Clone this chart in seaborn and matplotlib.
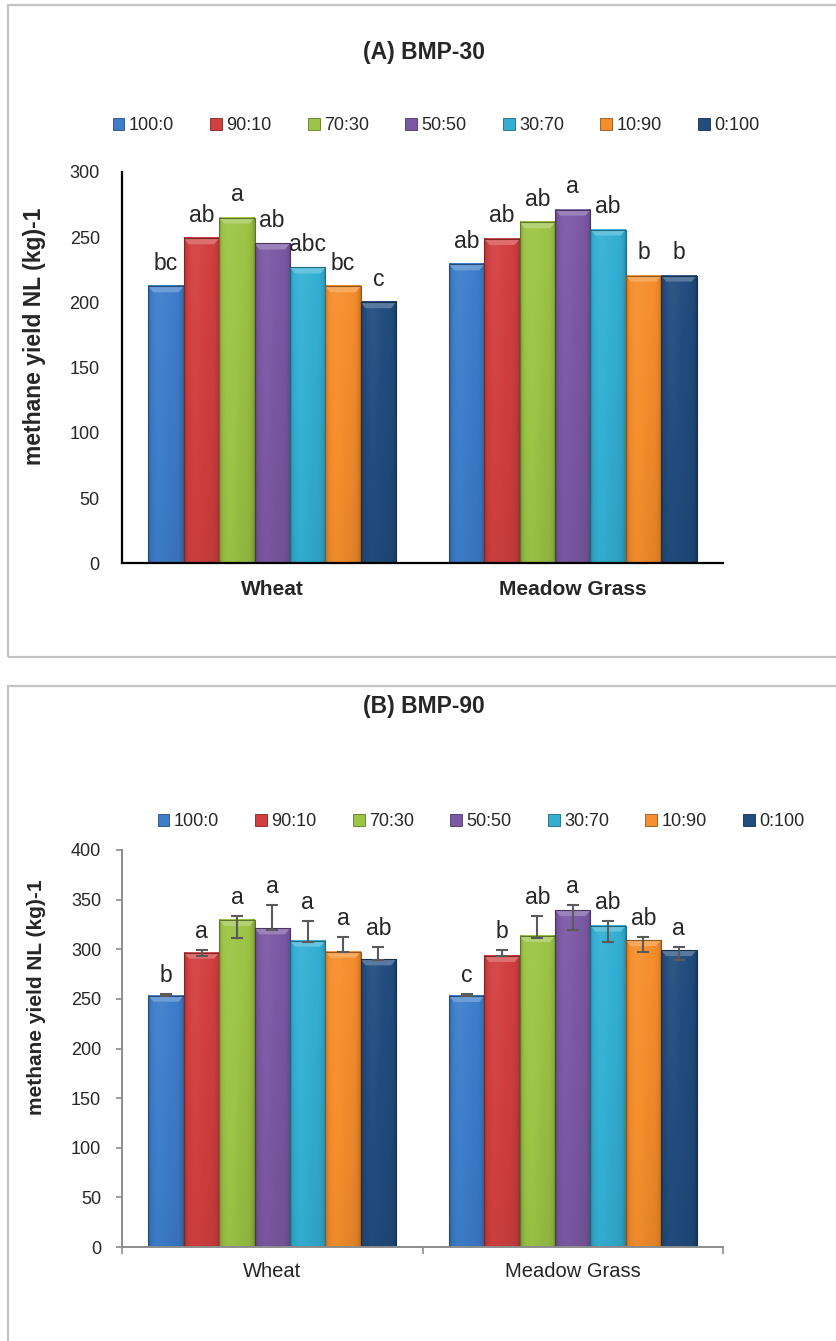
import numpy as np
import pandas as pd
import matplotlib
matplotlib.use("Agg")
import matplotlib.pyplot as plt
import matplotlib.colors as mcolors
from matplotlib.patches import Rectangle, Polygon, Patch
import seaborn as sns

# ---- data -------------------------------------------------------------
crops = ["Wheat", "Meadow Grass"]
ratios = ["100:0", "90:10", "70:30", "50:50", "30:70", "10:90", "0:100"]
bar_colors = ["#3D7DCA", "#D13F3F", "#9CC445", "#7B58A4", "#33AFD3", "#F58E2C", "#214C7E"]

# (A) BMP-30, methane yield NL (kg)-1
bmp30_wheat = [212.4, 249.2, 265.1, 245.2, 226.8, 212.4, 200.2]
bmp30_meadow = [229.3, 248.7, 261.5, 271.2, 255.9, 220.6, 220.6]
bmp30_wheat_letters = ["bc", "ab", "a", "ab", "abc", "bc", "c"]
bmp30_meadow_letters = ["ab", "ab", "ab", "a", "ab", "b", "b"]

# (B) BMP-90, methane yield NL (kg)-1
bmp90_wheat = [253.2, 296.6, 329.5, 321.1, 308.6, 297.6, 289.8]
bmp90_meadow = [252.9, 293.2, 313.4, 339.5, 323.8, 309.3, 299.2]
bmp90_wheat_letters = ["b", "a", "a", "a", "a", "a", "ab"]
bmp90_meadow_letters = ["c", "b", "ab", "a", "ab", "ab", "a"]
# error bar range for each mixing ratio (shared by both crops)
bmp90_err_low = [252.6, 293.5, 311.0, 319.4, 307.0, 296.9, 289.2]
bmp90_err_high = [254.9, 299.2, 333.8, 344.6, 328.8, 312.7, 302.6]

y_label = "methane yield NL (kg)-1"

# ---- style ------------------------------------------------------------
sns.set_style("white")
plt.rcParams["font.family"] = ["Liberation Sans", "DejaVu Sans"]

W, H = 836, 1341
DPI = 100
fig = plt.figure(figsize=(W / DPI, H / DPI), dpi=DPI)


def fx(px):
    return px / W


def fy(py):
    return 1 - py / H


def shade(color, f):
    rgb = np.array(mcolors.to_rgb(color))
    if f >= 1:
        return rgb + (1 - rgb) * (f - 1)
    return rgb * f


def make_frame(frame):
    return pd.DataFrame(
        [(c, r, v) for c, vals in frame for r, v in zip(ratios, vals)],
        columns=["crop", "ratio", "yield"],
    )


def beveled_bars(ax, units_per_px):
    """Give every bar a soft horizontal shading, a light top bevel and a dark rim."""
    nx, ny = 40, 60
    t = np.linspace(0, 1, nx)
    sx = 1.0 - 0.20 * (np.exp(-t / 0.06) + np.exp(-(1 - t) / 0.08)) + 0.05 * np.exp(-((t - 0.3) / 0.25) ** 2)
    s = np.linspace(0, 1, ny)[:, None]
    sy = 0.93 + 0.08 * s
    fac = sx[None, :] * sy
    for cont, col in zip(ax.containers, bar_colors):
        base = np.array(mcolors.to_rgb(col))
        for rect in cont:
            x0, w, h = rect.get_x(), rect.get_width(), rect.get_height()
            img = np.empty((ny, nx, 3))
            for k in range(3):
                hi = base[k] + (1 - base[k]) * np.clip(fac - 1, 0, None)
                lo = base[k] * np.clip(fac, None, 1)
                img[:, :, k] = np.where(fac >= 1, hi, lo)
            ax.imshow(img, extent=[x0, x0 + w, 0, h], origin="lower", aspect="auto",
                      interpolation="bilinear", zorder=2.1)
            d = 6 * units_per_px
            inset = w * 0.14
            ax.add_patch(Polygon([(x0, h), (x0 + w, h), (x0 + w - inset, h - d), (x0 + inset, h - d)],
                                 closed=True, facecolor=shade(col, 1.25), edgecolor="none", zorder=2.2))
            ax.add_patch(Rectangle((x0, 0), w, h, fill=False, edgecolor=shade(col, 0.6),
                                   linewidth=0.8, zorder=2.3))
            rect.set_visible(False)


def draw_panel(ax, frame, ymax, units_per_px, label_size):
    df = make_frame(frame)
    sns.barplot(data=df, x="crop", y="yield", hue="ratio", order=crops, hue_order=ratios,
                palette=bar_colors, saturation=1, width=0.824, errorbar=None,
                legend=False, ax=ax)
    beveled_bars(ax, units_per_px)
    ax.set_xlim(-0.5, 1.5)
    ax.set_ylim(0, ymax)
    ax.set_xlabel("")
    ax.set_ylabel(y_label, fontsize=label_size, fontweight="bold")
    for sp in ["top", "right"]:
        ax.spines[sp].set_visible(False)


# ---- panel frames ------------------------------------------------------
fig.patches.append(Rectangle((fx(8), fy(657)), 1.0, fy(5) - fy(657), transform=fig.transFigure,
                             fill=False, edgecolor="#C3C3C3", linewidth=1.6))
fig.patches.append(Rectangle((fx(8), fy(1350)), 1.0, fy(686) - fy(1350), transform=fig.transFigure,
                             fill=False, edgecolor="#C3C3C3", linewidth=1.6))

legend_handles = [Patch(facecolor=c, edgecolor=shade(c, 0.6), linewidth=0.6) for c in bar_colors]
legend_kw = dict(ncol=7, frameon=False, fontsize=13, handlelength=0.65, handleheight=0.65,
                 handletextpad=0.25, columnspacing=2.0, loc="center")
axes_w = fx(723) - fx(122)

# ---- (A) BMP-30 -------------------------------------------------------
ax1 = fig.add_axes([fx(122), fy(563.3), axes_w, fy(172) - fy(563.3)])
draw_panel(ax1, [(crops[0], bmp30_wheat), (crops[1], bmp30_meadow)], 300, 300 / 391.3, 16.5)
ax1.set_yticks(np.arange(0, 301, 50))
ax1.tick_params(axis="y", length=0, pad=16, labelsize=13)
ax1.tick_params(axis="x", length=0, pad=12, labelsize=15)
for lab in ax1.get_xticklabels():
    lab.set_fontweight("bold")
for sp in ["left", "bottom"]:
    ax1.spines[sp].set_color("black")
    ax1.spines[sp].set_linewidth(1.6)
ax1.yaxis.set_label_coords(fx(46 - 122) / axes_w, 0.58)

for cont, lw, lm in zip(ax1.containers, bmp30_wheat_letters, bmp30_meadow_letters):
    for rect, txt in zip(cont, [lw, lm]):
        ax1.annotate(txt, (rect.get_x() + rect.get_width() / 2, rect.get_height()),
                     xytext=(0, 12), textcoords="offset points", ha="center", va="baseline",
                     fontsize=16.5)

fig.text(fx(424), fy(52), "(A) BMP-30", ha="center", va="center", fontsize=16.5, fontweight="bold")
fig.legend(handles=legend_handles, labels=ratios, bbox_to_anchor=(fx(436), fy(126)), **legend_kw)

# ---- (B) BMP-90 -------------------------------------------------------
ax2 = fig.add_axes([fx(122), fy(1247), axes_w, fy(850) - fy(1247)])
draw_panel(ax2, [(crops[0], bmp90_wheat), (crops[1], bmp90_meadow)], 400, 400 / 397, 15)
ax2.set_yticks(np.arange(0, 401, 50))
ax2.tick_params(axis="y", direction="out", length=4, width=1.2, color="#8C8C8C", pad=11,
                labelsize=13, left=True)
ax2.tick_params(axis="x", which="major", length=0, pad=11, labelsize=14.5)
ax2.set_xticks([-0.5, 0.5, 1.5], minor=True)
ax2.tick_params(axis="x", which="minor", direction="out", length=5, width=1.2, color="#8C8C8C",
                bottom=True)
for sp in ["left", "bottom"]:
    ax2.spines[sp].set_color("#8C8C8C")
    ax2.spines[sp].set_linewidth(1.4)
ax2.yaxis.set_label_coords(fx(46 - 122) / axes_w, 0.63)

err_center = [(lo + hi) / 2 for lo, hi in zip(bmp90_err_low, bmp90_err_high)]
err_half = [(hi - lo) / 2 for lo, hi in zip(bmp90_err_low, bmp90_err_high)]
for i, (cont, lw, lm) in enumerate(zip(ax2.containers, bmp90_wheat_letters, bmp90_meadow_letters)):
    for rect, txt in zip(cont, [lw, lm]):
        xc = rect.get_x() + rect.get_width() / 2
        ax2.errorbar(xc, err_center[i], yerr=err_half[i], fmt="none", ecolor="#5A5A5A",
                     elinewidth=1.5, capsize=4, capthick=1.5, zorder=3)
        top = max(rect.get_height(), bmp90_err_high[i])
        ax2.annotate(txt, (xc, top), xytext=(0, 8.5), textcoords="offset points",
                     ha="center", va="baseline", fontsize=16.5)

fig.text(fx(424), fy(706), "(B) BMP-90", ha="center", va="center", fontsize=16.5, fontweight="bold")
fig.legend(handles=legend_handles, labels=ratios, bbox_to_anchor=(fx(481), fy(822)), **legend_kw)

fig.savefig("out.png", dpi=DPI)
